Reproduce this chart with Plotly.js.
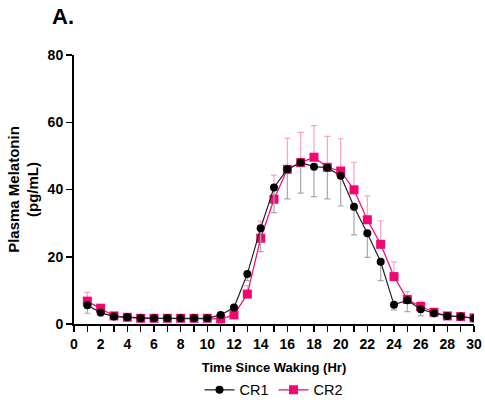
<!DOCTYPE html>
<html>
<head>
<meta charset="utf-8">
<script src="https://cdn.plot.ly/plotly-3.0.1.min.js"></script>
<style>html,body{margin:0;padding:0;background:#fff;}#chart{width:485px;height:405px;}</style>
</head>
<body>
<div id="chart"></div>
<script>
const hours = [1,2,3,4,5,6,7,8,9,10,11,12,13,14,15,16,17,18,19,20,21,22,23,24,25,26,27,28,29,30];
const cr1 = [5.6,3.4,2.2,2.0,1.7,1.7,1.7,1.7,1.7,1.7,2.7,4.9,14.9,28.5,40.6,46.0,48.0,46.8,46.5,44.1,34.9,27.0,18.5,5.7,7.1,4.4,3.2,2.4,2.2,1.7];
const cr1ErrMinus = [2.4,1.0,0.5,0.5,0.5,0.5,0.5,0.5,0.5,0.5,0.5,0.8,2.0,7.0,7.5,8.8,9.1,8.9,9.3,9.0,8.4,7.2,5.6,1.5,3.4,2.0,1.0,0.5,0.5,0.5];
const cr2 = [6.8,4.7,2.4,2.0,1.7,1.7,1.7,1.7,1.7,1.7,1.5,2.7,8.9,25.5,37.1,46.0,48.0,49.6,46.6,45.5,39.9,31.0,23.7,14.1,7.3,5.2,3.5,2.4,2.2,1.8];
const cr2ErrPlus = [2.6,1.0,0.5,0.5,0.5,0.5,0.5,0.5,0.5,0.5,0.5,1.0,2.5,5.1,7.2,9.3,9.0,9.4,9.2,9.6,8.2,7.1,7.0,4.4,2.3,1.5,1.0,0.5,0.5,0.5];
const xTickVals = [0,1,2,3,4,5,6,7,8,9,10,11,12,13,14,15,16,17,18,19,20,21,22,23,24,25,26,27,28,29,30];
const xTickText = ['0','','2','','4','','6','','8','','10','','12','','14','','16','','18','','20','','22','','24','','26','','28','','30'];
const yTickVals = [0,20,40,60,80];

const zeros = hours.map(() => 0);
const pink = '#F2066F';

const traces = [
  {
    x: hours, y: cr2, name: 'CR2', type: 'scatter', mode: 'lines+markers',
    line: {color: pink, width: 1.2},
    marker: {symbol: 'square', size: 9, color: pink},
    error_y: {type: 'data', symmetric: false, array: cr2ErrPlus, arrayminus: zeros, color: '#F9A3C4', thickness: 1.2, width: 3}
  },
  {
    x: hours, y: cr1, name: 'CR1', type: 'scatter', mode: 'lines+markers',
    line: {color: '#222', width: 1.2},
    marker: {symbol: 'circle', size: 8, color: '#000'},
    error_y: {type: 'data', symmetric: false, array: zeros, arrayminus: cr1ErrMinus, color: '#A8A8A8', thickness: 1.2, width: 3}
  }
];

const font = 'Liberation Sans, Arial, Helvetica, sans-serif';
const layout = {
  width: 485, height: 405,
  margin: {l: 74, r: 11, t: 55, b: 81, autoexpand: false},
  paper_bgcolor: '#fff', plot_bgcolor: '#fff',
  font: {family: font, color: '#000'},
  showlegend: true,
  legend: {orientation: 'h', x: 0.5, xanchor: 'center', y: -0.245, yanchor: 'middle', traceorder: 'reversed', font: {size: 14.5, family: font}, itemwidth: 30},
  xaxis: {
    range: [0, 30], tickmode: 'array', tickvals: xTickVals, ticktext: xTickText,
    showline: true, linecolor: '#000', linewidth: 2, ticks: 'outside', ticklen: 6, tickwidth: 1.5, tickcolor: '#000',
    showgrid: false, zeroline: false,
    tickfont: {size: 14, family: font, weight: 'bold'},
    title: {text: '<b>Time Since Waking (Hr)</b>', font: {size: 13, family: font}, standoff: 12}
  },
  yaxis: {
    range: [0, 80], tickmode: 'array', tickvals: yTickVals,
    showline: true, linecolor: '#000', linewidth: 2, ticks: 'outside', ticklen: 6, tickwidth: 1.5, tickcolor: '#000',
    showgrid: false, zeroline: false,
    tickfont: {size: 14, family: font, weight: 'bold'},
    title: {text: '<b>Plasma Melatonin<br>(pg/mL)</b>', font: {size: 15, family: font}, standoff: 5}
  },
  annotations: [
    {text: '<b>A.</b>', xref: 'paper', yref: 'paper', x: -0.06, y: 1.143, xanchor: 'left', yanchor: 'middle', showarrow: false, font: {size: 22, family: font}}
  ]
};

Plotly.newPlot('chart', traces, layout, {displayModeBar: false, staticPlot: true});
</script>
</body>
</html>
